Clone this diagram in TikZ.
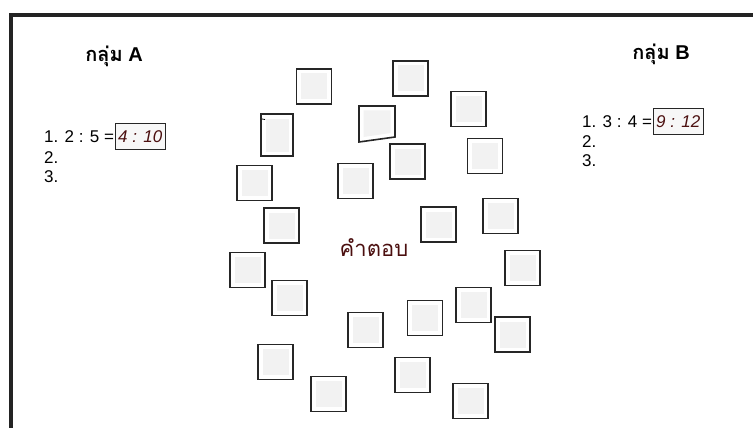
\documentclass[tikz,border=0pt]{standalone}
\usepackage{fontspec}
\setmainfont{Liberation Sans}
\newfontfamily\thaifont[Script=Thai]{Loma}
\usetikzlibrary{positioning}
\definecolor{ansred}{RGB}{75,15,15}
\definecolor{framegray}{RGB}{35,35,35}

\begin{document}
\begin{tikzpicture}[x=1pt,y=-1pt,
  card/.style={draw=black!85,line width=1.6pt,fill=white,inner sep=0pt,
    minimum width=35pt,minimum height=35pt,
    path picture={\fill[black!5] ([shift={(4.5pt,4.5pt)}]path picture bounding box.south west)
      rectangle ([shift={(-4.5pt,-4.5pt)}]path picture bounding box.north east);}},
  item/.style={font=\fontsize{17}{20}\selectfont,inner sep=0pt,anchor=west},
  ansbox/.style={draw=black!85,line width=0.9pt,fill=black!3,inner sep=3pt,
    minimum height=26pt,font=\fontsize{17}{20}\selectfont\itshape,text=ansred},
  title/.style={font=\fontsize{20}{23}\selectfont\bfseries,inner sep=0pt}]
  \useasboundingbox (0,0) rectangle (753,428);
  \draw[line width=4pt,framegray] (11,428) -- (11,15) -- (753,15);

  \node[title] (ta) at (114,56) {{\thaifont กลุ่ม} A};
  \node[title] (tb) at (661,54) {{\thaifont กลุ่ม} B};

  \node[item] (a1) at (44,136.5) {1. 2 : 5 =};
  \node[ansbox,right=0.5pt of a1] (a1ans) {4 : 10};
  \node[item] (a2) at (44,158) {2.};
  \node[item] (a3) at (44,177) {3.};

  \node[item] (b1) at (582,121.5) {1. 3 : 4 =};
  \node[ansbox,right=0.5pt of b1] (b1ans) {9 : 12};
  \node[item] (b2) at (582,142) {2.};
  \node[item] (b3) at (582,160.5) {3.};

  \node[text=ansred,font=\thaifont\fontsize{22}{25}\selectfont] (answer) at (374,248) {คำตอบ};

  \node[card] (c1) at (314,86.5) {};
  \node[card] (c2) at (410.5,78.5) {};
  \node[card] (c3) at (468.5,109) {};
  \node[card,minimum width=32pt,minimum height=42pt] (c4) at (277,135) {};
  \draw[line width=0.8pt] (262,119) -- (265,119.5);
  \draw[draw=black!85,line width=1.6pt,fill=white]
    (359,106) -- (395,106) -- (395,137) -- (359,142) -- cycle;
  \fill[black!5] (363.5,110.5) -- (390.5,110.5) -- (390.5,133) -- (363.5,137) -- cycle;
  \node[card] (c6) at (407.5,161.5) {};
  \node[card] (c7) at (485,156) {};
  \node[card] (c8) at (254.5,183) {};
  \node[card] (c9) at (355.5,181) {};
  \node[card] (c10) at (281.5,225.5) {};
  \node[card] (c11) at (438.5,224.5) {};
  \node[card] (c12) at (500.5,216) {};
  \node[card] (c13) at (247.5,270) {};
  \node[card] (c14) at (289.5,298) {};
  \node[card] (c15) at (522.5,268) {};
  \node[card] (c16) at (473.5,305) {};
  \node[card] (c17) at (425,318) {};
  \node[card] (c18) at (365.5,330) {};
  \node[card] (c19) at (512.5,334.5) {};
  \node[card] (c20) at (275.5,362) {};
  \node[card] (c21) at (412.5,375) {};
  \node[card] (c22) at (328.5,394) {};
  \node[card] (c23) at (470.5,401) {};
\end{tikzpicture}
\end{document}
